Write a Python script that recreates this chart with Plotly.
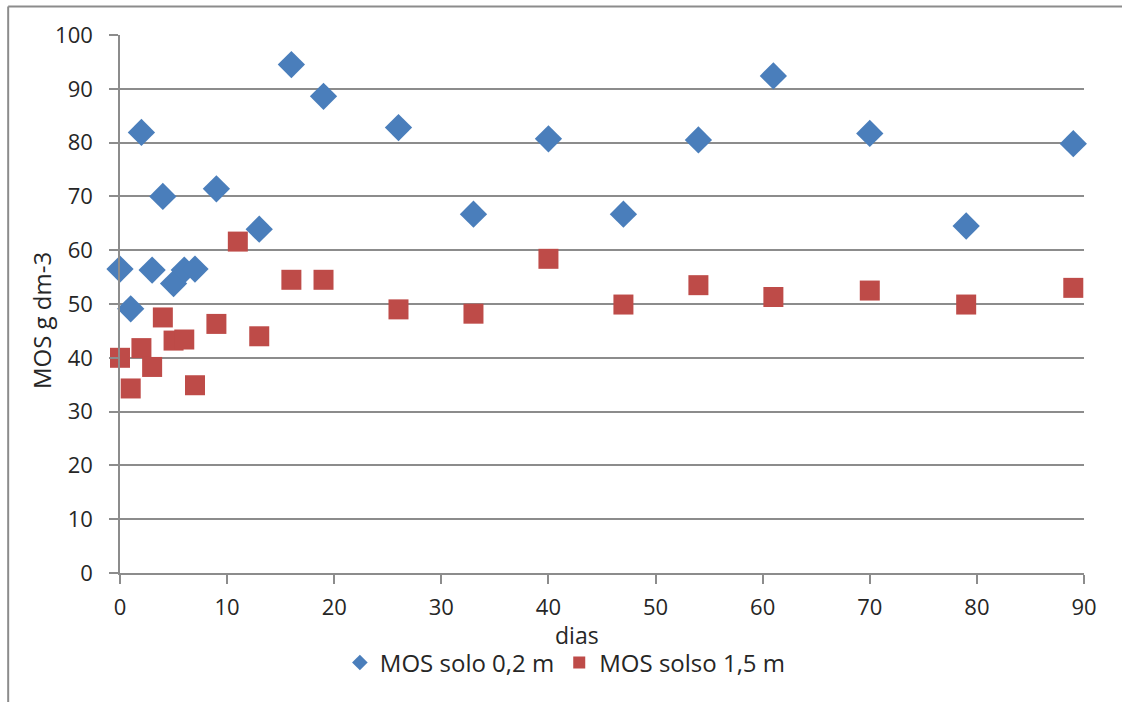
import plotly.graph_objects as go

# Days of sampling and organic matter (MOS, g dm-3) per soil depth
dias_02 = [0, 1, 2, 3, 4, 5, 6, 7, 9, 13, 16, 19, 26, 33, 40, 47, 54, 61, 70, 79, 89]
mos_02 = [56.5, 49.1, 81.9, 56.3, 70.0, 53.8, 56.3, 56.5, 71.4, 63.9, 94.5, 88.6,
          82.8, 66.7, 80.7, 66.7, 80.5, 92.4, 81.7, 64.5, 79.8]

dias_15 = [0, 1, 2, 3, 4, 5, 6, 7, 9, 11, 13, 16, 19, 26, 33, 40, 47, 54, 61, 70, 79, 89]
mos_15 = [40.0, 34.3, 41.8, 38.3, 47.5, 43.2, 43.4, 34.9, 46.3, 61.6, 44.0, 54.5,
          54.5, 49.0, 48.2, 58.4, 49.9, 53.5, 51.3, 52.5, 49.9, 53.0]

x_ticks = [0, 10, 20, 30, 40, 50, 60, 70, 80, 90]
y_ticks = [0, 10, 20, 30, 40, 50, 60, 70, 80, 90, 100]

FONT = "Open Sans"
TEXT = "#262626"
GRID = "#8c8c8c"

fig = go.Figure()
fig.add_trace(go.Scatter(
    x=dias_02, y=mos_02, mode="markers", name="MOS solo 0,2 m",
    marker=dict(symbol="diamond", size=21, color="#4A7EBB", line=dict(width=0)),
    cliponaxis=False,
))
fig.add_trace(go.Scatter(
    x=dias_15, y=mos_15, mode="markers", name="MOS solso 1,5 m",
    marker=dict(symbol="square", size=20, color="#BE4B48", line=dict(width=0)),
    cliponaxis=False,
))

fig.update_layout(
    width=1122, height=702,
    margin=dict(l=120, r=38, t=35, b=129),
    paper_bgcolor="white", plot_bgcolor="white",
    font=dict(family=FONT, size=21, color=TEXT),
    showlegend=True,
    legend=dict(
        orientation="h", x=0.462, xanchor="center", y=-0.167, yanchor="middle",
        font=dict(family=FONT, size=24, color=TEXT),
        itemsizing="constant", traceorder="normal", itemwidth=30,
    ),
    xaxis=dict(
        range=[0, 90], tickvals=x_ticks, ticktext=[str(v) for v in x_ticks],
        showgrid=False, zeroline=False,
        showline=True, linecolor=GRID, linewidth=1.5,
        ticks="outside", ticklen=9, tickcolor=GRID, tickwidth=1.5,
        ticklabelstandoff=5,
        tickfont=dict(family=FONT, size=22, color=TEXT),
    ),
    yaxis=dict(
        range=[0, 100], tickvals=y_ticks, ticktext=[str(v) for v in y_ticks],
        showgrid=True, gridcolor=GRID, gridwidth=1.5, zeroline=False,
        showline=True, linecolor=GRID, linewidth=1.5,
        ticks="outside", ticklen=9, tickcolor=GRID, tickwidth=1.5,
        ticklabelstandoff=12,
        tickfont=dict(family=FONT, size=22, color=TEXT),
    ),
    annotations=[
        dict(text="dias", xref="paper", yref="paper", x=0.474, y=-0.116,
             xanchor="center", yanchor="middle", showarrow=False,
             font=dict(family=FONT, size=23, color=TEXT)),
        dict(text="MOS g dm-3", xref="paper", yref="paper", x=-0.082, y=0.47,
             xanchor="center", yanchor="middle", showarrow=False, textangle=-90,
             font=dict(family=FONT, size=24, color=TEXT)),
    ],
    shapes=[
        # chart frame (top and left edges)
        dict(type="line", xref="paper", yref="paper", x0=-0.116, x1=1.04,
             y0=1.053, y1=1.053, line=dict(color="#8c8c8c", width=2)),
        dict(type="line", xref="paper", yref="paper", x0=-0.116, x1=-0.116,
             y0=1.053, y1=-0.24, line=dict(color="#8c8c8c", width=2)),
    ],
)

fig.write_html("out.html")
